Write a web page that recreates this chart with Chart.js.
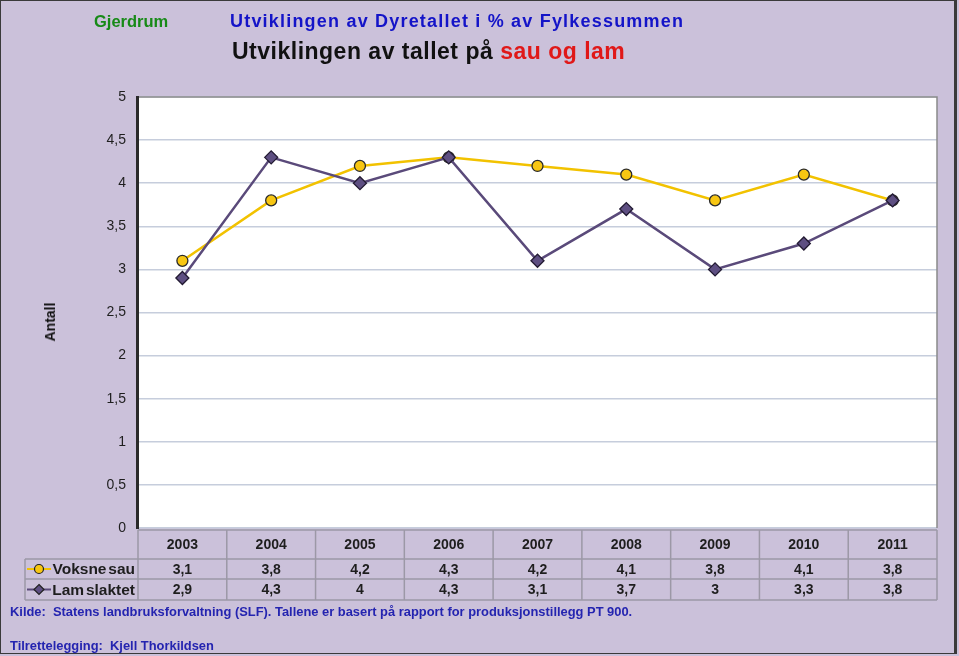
<!DOCTYPE html>
<html><head><meta charset="utf-8">
<script src="https://cdn.jsdelivr.net/npm/chart.js@4.4.1/dist/chart.umd.min.js"></script>
<style>
html,body{margin:0;padding:0;background:#fff;}
#wrap{position:relative;width:959px;height:656px;background:#CBC1DA;font-family:"Liberation Sans",Arial,sans-serif;overflow:hidden;}
#frame{position:absolute;left:0;top:0;width:957px;height:654px;border:1px solid #3a3a3a;border-right:3px solid #3a3a3a;box-sizing:border-box;pointer-events:none;}
canvas{position:absolute;left:0;top:0;}
.t{position:absolute;white-space:nowrap;font-weight:bold;line-height:1;}
</style>
</head><body>
<div id="wrap">
<canvas id="c" width="959" height="656"></canvas>
<div class="t" style="left:94px;top:13px;font-size:16.5px;color:#178A17;">Gjerdrum</div>
<div class="t" style="left:230px;top:12px;font-size:18px;letter-spacing:1.2px;color:#1414C8;">Utviklingen av Dyretallet i % av Fylkessummen</div>
<div class="t" style="left:232px;top:40px;font-size:23px;letter-spacing:0.5px;color:#111;">Utviklingen av tallet på <span style="color:#E01818">sau og lam</span></div>
<div class="t" style="left:50px;top:322px;font-size:14px;color:#111;transform:translate(-50%,-50%) rotate(-90deg);">Antall</div>
<div class="t" style="left:10px;top:606px;font-size:12.9px;color:#2424B0;">Kilde:&nbsp; Statens landbruksforvaltning (SLF). Tallene er basert på rapport for produksjonstillegg PT 900.</div>
<div class="t" style="left:10px;top:640px;font-size:12.9px;color:#2424B0;">Tilrettelegging:&nbsp; Kjell Thorkildsen</div>
<div id="frame"></div>
</div>
<script>
const categories = ['2003','2004','2005','2006','2007','2008','2009','2010','2011'];
const voksneSau = [3.1, 3.8, 4.2, 4.3, 4.2, 4.1, 3.8, 4.1, 3.8];
const lamSlaktet = [2.9, 4.3, 4, 4.3, 3.1, 3.7, 3, 3.3, 3.8];
const seriesNames = ['Voksne sau', 'Lam slaktet'];
const yMin = 0, yMax = 5, yStep = 0.5;

const fmt = v => String(v).replace('.', ',');

const tablePlugin = {
  id: 'tablePlugin',
  beforeDraw(chart) {
    const {ctx, chartArea: a} = chart;
    ctx.save();
    ctx.fillStyle = '#ffffff';
    ctx.fillRect(a.left, a.top, a.right - a.left, a.bottom - a.top);
    ctx.restore();
  },
  afterDraw(chart) {
    const {ctx, chartArea: a} = chart;
    const xs = chart.scales.x;
    ctx.save();
    ctx.strokeStyle = '#8a8a8a';
    ctx.lineWidth = 1.5;
    ctx.beginPath();
    ctx.moveTo(a.left, a.top); ctx.lineTo(a.right, a.top); ctx.lineTo(a.right, a.bottom);
    ctx.stroke();
    ctx.strokeStyle = '#2a2a2a';
    ctx.lineWidth = 3;
    ctx.beginPath();
    ctx.moveTo(a.left - 0.5, a.top - 1); ctx.lineTo(a.left - 0.5, a.bottom + 1);
    ctx.stroke();

    const n = categories.length;
    const w = (a.right - a.left) / n;
    const r0 = a.bottom + 2, r1 = r0 + 29, r2 = r1 + 20, r3 = r2 + 21;
    const legL = 25;
    ctx.strokeStyle = '#9c98a6';
    ctx.lineWidth = 1.5;
    ctx.beginPath();
    ctx.moveTo(a.left, r0); ctx.lineTo(a.right, r0);
    ctx.moveTo(legL, r1); ctx.lineTo(a.right, r1);
    ctx.moveTo(legL, r2); ctx.lineTo(a.right, r2);
    ctx.moveTo(legL, r3); ctx.lineTo(a.right, r3);
    ctx.moveTo(legL, r1); ctx.lineTo(legL, r3);
    for (let i = 0; i < n; i++) {
      const l = xs.getPixelForValue(i) - w / 2;
      ctx.moveTo(l, r0); ctx.lineTo(l, r3);
    }
    ctx.moveTo(a.right, r0); ctx.lineTo(a.right, r3);
    ctx.stroke();

    ctx.fillStyle = '#1e1e1e';
    ctx.font = 'bold 14px "Liberation Sans", Arial, sans-serif';
    ctx.textAlign = 'center';
    ctx.textBaseline = 'middle';
    for (let i = 0; i < n; i++) {
      const cx = xs.getPixelForValue(i);
      ctx.fillText(categories[i], cx, (r0 + r1) / 2 + 1);
      ctx.fillText(fmt(voksneSau[i]), cx, (r1 + r2) / 2 + 1);
      ctx.fillText(fmt(lamSlaktet[i]), cx, (r2 + r3) / 2 + 1);
    }
    ctx.textAlign = 'right';
    ctx.font = 'bold 15.5px "Liberation Sans", Arial, sans-serif';
    try { ctx.wordSpacing = '-2.5px'; } catch (e) {}
    const rows = [[(r1 + r2) / 2, chart.data.datasets[1]], [(r2 + r3) / 2, chart.data.datasets[0]]];
    rows.forEach(([cy, ds]) => {
      ctx.strokeStyle = ds.borderColor;
      ctx.lineWidth = 2;
      ctx.beginPath(); ctx.moveTo(27, cy); ctx.lineTo(51, cy); ctx.stroke();
      ctx.fillStyle = ds.backgroundColor;
      ctx.strokeStyle = '#222';
      ctx.lineWidth = 1.2;
      ctx.beginPath();
      if (ds.pointStyle === 'circle') {
        ctx.arc(39, cy, 4.5, 0, Math.PI * 2);
      } else {
        ctx.moveTo(39, cy - 5); ctx.lineTo(44, cy); ctx.lineTo(39, cy + 5); ctx.lineTo(34, cy); ctx.closePath();
      }
      ctx.fill(); ctx.stroke();
      ctx.fillStyle = '#1e1e1e';
      ctx.fillText(ds.label, 135, cy + 1);
    });
    ctx.restore();
  }
};

new Chart(document.getElementById('c'), {
  type: 'line',
  data: {
    labels: categories,
    datasets: [
      {
        label: seriesNames[1], data: lamSlaktet, order: 0,
        borderColor: '#5A4A7A', borderWidth: 2.5, backgroundColor: '#5E4F82',
        pointStyle: 'rectRot', pointRadius: 6.5, pointBorderColor: '#231b33', pointBorderWidth: 1.3,
        tension: 0
      },
      {
        label: seriesNames[0], data: voksneSau, order: 1,
        borderColor: '#F2C200', borderWidth: 2.5, backgroundColor: '#F7C612',
        pointStyle: 'circle', pointRadius: 5.5, pointBorderColor: '#2a2a2a', pointBorderWidth: 1.3,
        tension: 0
      }
    ]
  },
  options: {
    responsive: false, animation: false, devicePixelRatio: 1,
    layout: { padding: { left: 0, top: 97, right: 22, bottom: 128 } },
    plugins: { legend: { display: false }, tooltip: { enabled: false }, title: { display: false } },
    scales: {
      x: { type: 'category', display: false, offset: true },
      y: {
        min: yMin, max: yMax,
        afterFit: s => { s.width = 138; },
        ticks: { stepSize: yStep, padding: 12, color: '#1e1e1e',
          font: { family: '"Liberation Sans", Arial, sans-serif', size: 14 },
          callback: v => fmt(v) },
        grid: { color: '#C6CDDC', lineWidth: 1.5, drawTicks: false },
        border: { display: false }
      }
    }
  },
  plugins: [tablePlugin]
});
</script>
</body></html>
